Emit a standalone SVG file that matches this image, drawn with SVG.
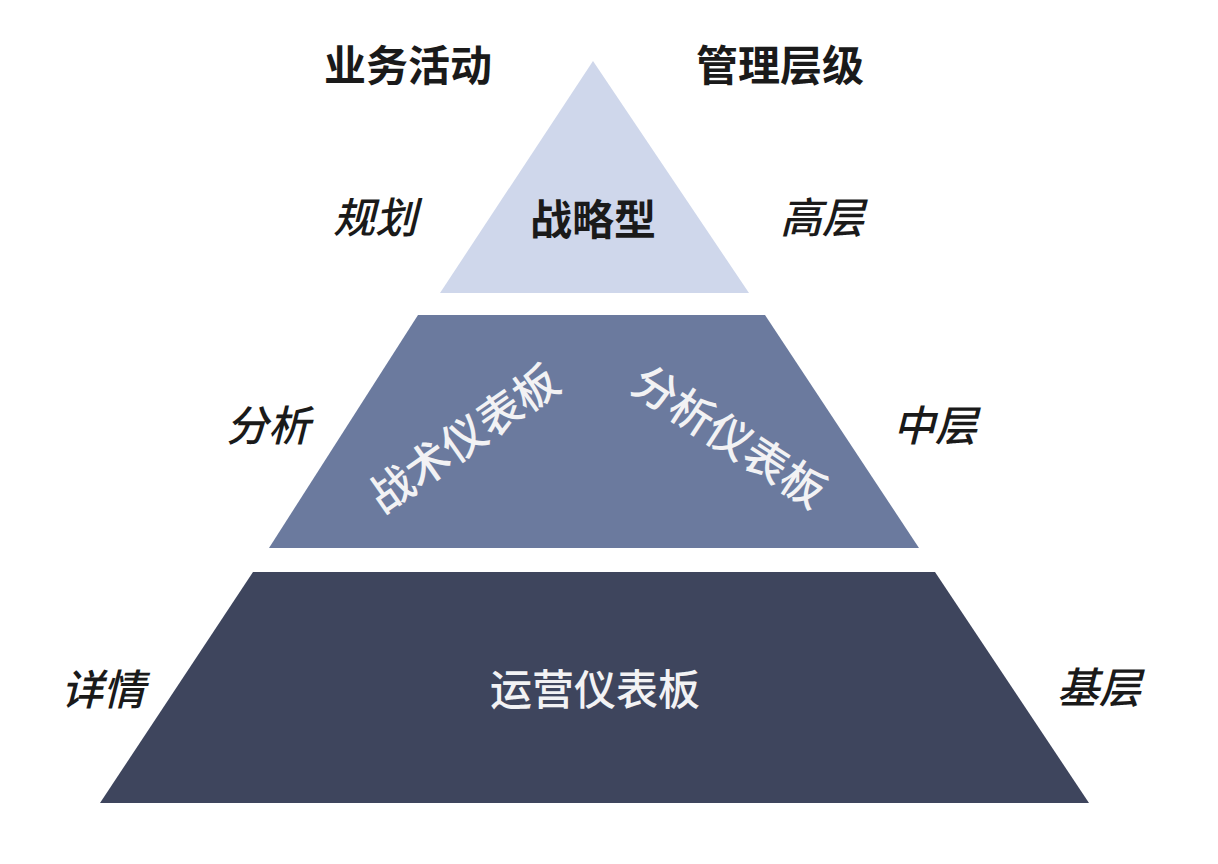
<svg xmlns="http://www.w3.org/2000/svg" width="1218" height="864" viewBox="0 0 1218 864">
<style>
  text { font-family: "Noto Sans CJK SC", "Noto Sans", sans-serif; text-anchor: middle; dominant-baseline: central; font-size: 42px; }
  .head { font-weight: bold; fill: #1a1a1a; }
  .side { font-style: italic; fill: #1a1a1a; font-weight: 500; }
  .dark { font-weight: bold; fill: #1a1a1a; }
  .light { fill: #f2f2f4; font-weight: 500; }
  .rot { font-size: 44px; }
</style>
<rect width="1218" height="864" fill="#ffffff"/>
<g id="headers">
  <text class="head" x="408" y="62">业务活动</text>
  <text class="head" x="780" y="62">管理层级</text>
</g>
<g id="tier-top">
  <polygon points="593,61 749,293 440,293" fill="#cfd7eb"/>
  <text class="dark" x="593" y="216">战略型</text>
</g>
<g id="tier-middle">
  <polygon points="418,315 765,315 919,548 269,548" fill="#6b7a9e"/>
  <text class="light rot" x="462" y="436" transform="rotate(-35 462 436)">战术仪表板</text>
  <text class="light rot" x="731" y="434" transform="rotate(33 731 434)">分析仪表板</text>
</g>
<g id="tier-bottom">
  <polygon points="253,572 935,572 1089,803 100,803" fill="#3e455d"/>
  <text class="light" x="595" y="686">运营仪表板</text>
</g>
<g id="labels-left">
  <text class="side" x="375" y="214">规划</text>
  <text class="side" x="268" y="422">分析</text>
  <text class="side" x="103" y="686">详情</text>
</g>
<g id="labels-right">
  <text class="side" x="822" y="214">高层</text>
  <text class="side" x="935" y="422">中层</text>
  <text class="side" x="1099" y="684">基层</text>
</g>
<g id="connectors"></g>
</svg>
